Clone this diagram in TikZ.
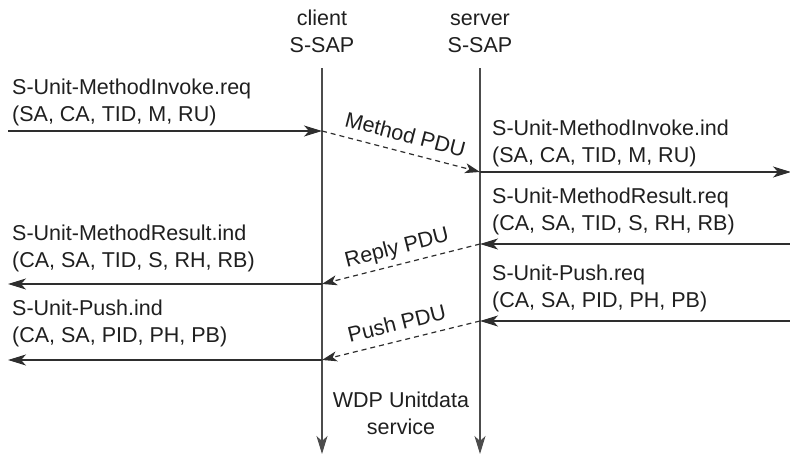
\documentclass[tikz,border=0pt]{standalone}
\usepackage{fontspec}
\setmainfont{Liberation Sans}
\usetikzlibrary{arrows.meta}

\begin{document}
\begin{tikzpicture}[x=1pt,y=-1pt,
  txt/.style={inner sep=0pt,text=black!88,font=\fontsize{21.5}{27}\selectfont},
  prim/.style={txt,align=left,anchor=south west},
  sap/.style={txt,align=center,anchor=south},
  pdulbl/.style={txt,text depth=0pt,above=9.5pt,sloped},
  msg/.style={draw=black!82,line width=1.2pt,-{Stealth[length=18pt,width=11pt,inset=5pt]}},
  pdu/.style={msg,dash pattern=on 5pt off 4pt,-{Stealth[length=15pt,width=10pt,inset=4pt]}},
  life/.style={draw=black!70,line width=1.2pt,-{Stealth[length=18pt,width=11pt,inset=5pt]}}]
  \useasboundingbox (0,0) rectangle (790,455);
  \node[sap] (client) at (322,53) {client\\S-SAP};
  \node[sap] (server) at (480,53) {server\\S-SAP};
  \node[sap] (wdp) at (401,435) {WDP Unitdata\\service};
  \coordinate (ctop) at (322,68);
  \coordinate (cbot) at (322,454);
  \coordinate (stop) at (480,68);
  \coordinate (sbot) at (480,454);
  \coordinate (l1) at (8,131);
  \coordinate (c1) at (322,131);
  \coordinate (s1) at (480,172);
  \coordinate (r1) at (791,172);
  \coordinate (r2) at (790,244);
  \coordinate (s2) at (480,244);
  \coordinate (c2) at (322,284);
  \coordinate (l2) at (8,284);
  \coordinate (r3) at (790,321);
  \coordinate (s3) at (480,321);
  \coordinate (c3) at (322,360);
  \coordinate (l3) at (8,360);
  \node[prim] (invreq) at (12,126) {S-Unit-MethodInvoke.req\\(SA, CA, TID, M, RU)};
  \node[prim] (invind) at (492,167) {S-Unit-MethodInvoke.ind\\(SA, CA, TID, M, RU)};
  \node[prim] (resreq) at (492,235) {S-Unit-MethodResult.req\\(CA, SA, TID, S, RH, RB)};
  \node[prim] (resind) at (12,272) {S-Unit-MethodResult.ind\\(CA, SA, TID, S, RH, RB)};
  \node[prim] (pushreq) at (492,312) {S-Unit-Push.req\\(CA, SA, PID, PH, PB)};
  \node[prim] (pushind) at (12,347) {S-Unit-Push.ind\\(CA, SA, PID, PH, PB)};
  \path (ctop) edge [life] (cbot);
  \path (stop) edge [life] (sbot);
  \path (l1) edge [msg] (c1);
  \path (c1) edge [pdu] node[pdulbl] {Method PDU} (s1);
  \path (s1) edge [msg] (r1);
  \path (r2) edge [msg] (s2);
  \path (s2) edge [pdu] node[pdulbl] {Reply PDU} (c2);
  \path (c2) edge [msg] (l2);
  \path (r3) edge [msg] (s3);
  \path (s3) edge [pdu] node[pdulbl] {Push PDU} (c3);
  \path (c3) edge [msg] (l3);
\end{tikzpicture}
\end{document}
